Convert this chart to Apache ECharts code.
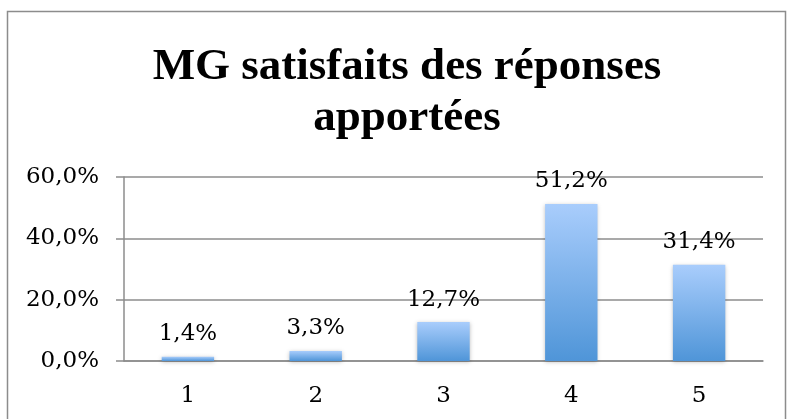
<!DOCTYPE html>
<html>
    <head>
        <title>mg_satisfaits</title>
        <script src="https://cdn.jsdelivr.net/npm/echarts@6/dist/echarts.min.js"></script>
        <style>
            html, body { margin: 0; padding: 0; background: #fff; }
        </style>
    </head>
    <body>
        <div id="main" style="width: 788px; height: 419px;"></div>
        <script>
            var categories = ['1', '2', '3', '4', '5'];
            var values = [1.4, 3.3, 12.7, 51.2, 31.4];
            var y_ticks = [0, 20, 40, 60];

            function fmt_pct(v) {
                return v.toFixed(1).replace('.', ',') + '%';
            }

            var labelFont = 'DejaVu Serif';
            var myChart = echarts.init(document.getElementById('main'));
            var option = {
                backgroundColor: '#fff',
                animation: false,
                title: {
                    text: 'MG satisfaits des réponses\napportées',
                    left: 402,
                    top: 37,
                    textAlign: 'center',
                    textStyle: {
                        fontFamily: 'Liberation Serif',
                        fontWeight: 'bold',
                        fontSize: 45,
                        lineHeight: 51,
                        color: '#000'
                    }
                },
                graphic: [{
                    type: 'rect',
                    shape: { x: 7.5, y: 11.5, width: 778, height: 430 },
                    style: { fill: 'none', stroke: '#8c8c8c', lineWidth: 1.5 },
                    silent: true
                }],
                grid: { left: 124, right: 25, top: 177, bottom: 58 },
                xAxis: {
                    type: 'category',
                    data: categories,
                    axisLine: { lineStyle: { color: '#8c8c8c', width: 1.5 } },
                    axisTick: { length: 6, lineStyle: { color: '#8c8c8c', width: 1.5 } },
                    axisLabel: {
                        margin: 24,
                        fontFamily: labelFont,
                        fontSize: 23,
                        color: '#000'
                    }
                },
                yAxis: {
                    type: 'value',
                    min: y_ticks[0],
                    max: y_ticks[y_ticks.length - 1],
                    interval: 20,
                    axisLine: { show: true, lineStyle: { color: '#8c8c8c', width: 1.5 } },
                    axisTick: { show: true, length: 8, lineStyle: { color: '#8c8c8c', width: 1.5 } },
                    splitLine: { lineStyle: { color: '#8c8c8c', width: 1.5 } },
                    axisLabel: {
                        margin: 25,
                        fontFamily: labelFont,
                        fontSize: 23,
                        color: '#000',
                        formatter: function (v) { return fmt_pct(v); }
                    }
                },
                series: [{
                    type: 'bar',
                    data: values,
                    barWidth: '41%',
                    itemStyle: {
                        color: new echarts.graphic.LinearGradient(0, 0, 0, 1, [
                            { offset: 0, color: '#a9cdfc' },
                            { offset: 1, color: '#4f95d8' }
                        ]),
                        shadowColor: 'rgba(0,0,0,0.25)',
                        shadowBlur: 4,
                        shadowOffsetY: 1
                    },
                    label: {
                        show: true,
                        position: 'top',
                        distance: 11,
                        fontFamily: labelFont,
                        fontSize: 23,
                        color: '#000',
                        formatter: function (p) { return fmt_pct(p.value); }
                    }
                }]
            };
            myChart.setOption(option);
        </script>
    </body>
</html>
